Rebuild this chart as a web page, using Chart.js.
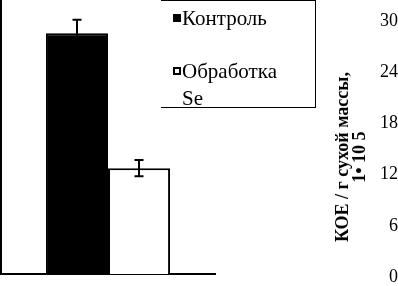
<!DOCTYPE html>
<html lang="ru">
<head>
<meta charset="utf-8">
<script src="https://cdn.jsdelivr.net/npm/chart.js@4.4.0/dist/chart.umd.min.js"></script>
<style>
  html, body { margin: 0; padding: 0; background: #fff; }
  .wrap { position: relative; width: 398px; height: 286px; overflow: hidden; }
  #koeChart { position: absolute; left: 0; top: 0; }
  .legend {
    position: absolute; left: 161px; top: 0; width: 155px; height: 108px;
    box-sizing: border-box; margin: 0; padding: 4px 0 0 21px; list-style: none;
    border-top: 1px solid #000; border-right: 1px solid #000; border-bottom: 1px solid #000;
    background: #fff;
    font-family: "Liberation Serif", "Times New Roman", "DejaVu Serif", serif;
    font-size: 21px; line-height: 26.6px; color: #000;
  }
  .legend li { position: relative; width: 106px; }
  .legend li + li { margin-top: 26.6px; }
  .legend-dot { position: absolute; left: -9px; top: 9px; width: 8px; height: 8px; box-sizing: border-box; border: 2px solid #000; }
  .axis-title {
    position: absolute; left: 351px; top: 157px;
    transform: translate(-50%, -50%) rotate(-90deg);
    font-family: "Liberation Serif", "Times New Roman", "DejaVu Serif", serif;
    font-weight: bold; font-size: 18px; line-height: 17px;
    text-align: center; white-space: nowrap; color: #000;
  }
</style>
</head>
<body>
<div class="wrap">
  <canvas id="koeChart" width="398" height="286"></canvas>
  <ul class="legend" id="koeLegend"></ul>
  <div class="axis-title" id="yTitle"></div>
</div>
<script>
// ---------- data ----------
const categories = [""];
const seriesNames = ["Контроль", "Обработка Se"];
const seriesColors = ["#000000", "#ffffff"];
const controlValues = [28.2];
const seValues = [12.4];
const controlErrors = [1.6];
const seErrors = [0.95];
const yTicks = [0, 6, 12, 18, 24, 30];
const yTitleLines = ["КОЕ / г сухой массы,", "1• 10 5"];

const serifFamily = "'Liberation Serif', 'Times New Roman', 'DejaVu Serif', serif";

// error bars drawn from each dataset's `errors` array
const errorBarPlugin = {
  id: "errorBars",
  afterDatasetsDraw(chart) {
    const ctx = chart.ctx;
    const yScale = chart.scales.y;
    ctx.save();
    ctx.strokeStyle = "#000";
    ctx.lineWidth = 2;
    chart.data.datasets.forEach((ds, i) => {
      chart.getDatasetMeta(i).data.forEach((bar, j) => {
        const v = ds.data[j];
        const e = ds.errors[j];
        const x = Math.round(bar.x);
        const top = yScale.getPixelForValue(v + e);
        const bottom = yScale.getPixelForValue(v - e);
        ctx.beginPath();
        ctx.moveTo(x, top);
        ctx.lineTo(x, bottom);
        ctx.moveTo(x - 4.5, top);
        ctx.lineTo(x + 4.5, top);
        ctx.moveTo(x - 4.5, bottom);
        ctx.lineTo(x + 4.5, bottom);
        ctx.stroke();
      });
    });
    ctx.restore();
  }
};

function renderLegend(targetId, items) {
  const el = document.getElementById(targetId);
  el.innerHTML = items
    .map((item) => `<li><span class="legend-dot" style="background:${item.color}"></span>${item.label}</li>`)
    .join("");
}

const data = {
  labels: categories,
  datasets: [
    { label: seriesNames[0], data: controlValues, errors: controlErrors, backgroundColor: seriesColors[0] },
    { label: seriesNames[1], data: seValues, errors: seErrors, backgroundColor: seriesColors[1] }
  ]
};

new Chart(document.getElementById("koeChart"), {
  type: "bar",
  data,
  plugins: [errorBarPlugin],
  options: {
    responsive: false,
    animation: false,
    layout: { padding: 0 },
    datasets: {
      bar: { borderColor: "#000", borderWidth: 2, categoryPercentage: 0.58, barPercentage: 1 }
    },
    plugins: { legend: { display: false }, tooltip: { enabled: false } },
    scales: {
      x: {
        grid: { display: false, drawTicks: false },
        ticks: { display: false },
        border: { display: true, color: "#000", width: 2 },
        afterFit(s) { s.height = 12; }
      },
      y: {
        position: "right",
        min: 0,
        max: 32.1,
        afterBuildTicks(s) { s.ticks = yTicks.map((v) => ({ value: v })); },
        grid: { display: false, drawTicks: false },
        border: { display: false },
        ticks: {
          color: "#000",
          font: { family: serifFamily, size: 18 },
          padding: 164,
          crossAlign: "far",
          labelOffset: 3
        },
        // labels sit far right; keep the plot full height
        afterFit(s) {
          s.width = 183;
          s.paddingTop = 0;
          s.paddingBottom = 0;
        }
      },
      yLeft: {
        position: "left",
        grid: { display: false, drawTicks: false },
        ticks: { display: false },
        border: { display: true, color: "#000", width: 2 },
        afterFit(s) {
          s.width = 1;
          s.paddingTop = 0;
          s.paddingBottom = 0;
        }
      }
    }
  }
});

renderLegend("koeLegend", seriesNames.map((label, i) => ({ label, color: seriesColors[i] })));
document.getElementById("yTitle").innerHTML = yTitleLines.join("<br>");
</script>
</body>
</html>
